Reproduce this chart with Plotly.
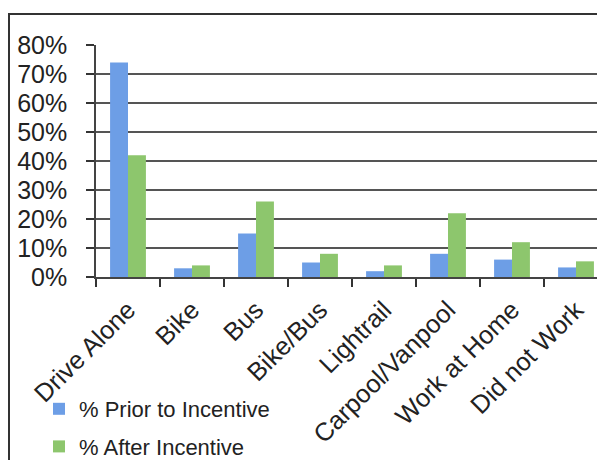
import plotly.graph_objects as go

categories = ["Drive Alone", "Bike", "Bus", "Bike/Bus", "Lightrail",
              "Carpool/Vanpool", "Work at Home", "Did not Work"]
prior = [0.74, 0.03, 0.15, 0.05, 0.02, 0.08, 0.06, 0.033]
after = [0.42, 0.04, 0.26, 0.08, 0.04, 0.22, 0.12, 0.054]
y_ticks = [0, 0.1, 0.2, 0.3, 0.4, 0.5, 0.6, 0.7, 0.8]
y_tick_text = ["0%", "10%", "20%", "30%", "40%", "50%", "60%", "70%", "80%"]

W, H = 597, 460
L, T, B = 96, 45, 183
plot_w = W - L
plot_h = H - T - B

fig = go.Figure()
fig.add_trace(go.Bar(x=categories, y=prior, name="% Prior to Incentive",
                     marker=dict(color="#6d9ee6", line=dict(width=0)),
                     legendgroup="a"))
fig.add_trace(go.Bar(x=categories, y=after, name="% After Incentive",
                     marker=dict(color="#8dc66d", line=dict(width=0)),
                     legendgroup="b"))

def px_x(px):
    return (px - L) / plot_w

def px_y(py):
    return (H - B - py) / plot_h

border = "#333333"
fig.add_shape(type="line", xref="paper", yref="paper",
              x0=px_x(8), x1=px_x(W + 5), y0=px_y(14), y1=px_y(14),
              line=dict(color=border, width=2))
fig.add_shape(type="line", xref="paper", yref="paper",
              x0=px_x(9), x1=px_x(9), y0=px_y(14), y1=px_y(H + 5),
              line=dict(color=border, width=2))

font_family = "Liberation Sans, Arial, sans-serif"
fig.update_layout(
    width=W, height=H,
    margin=dict(l=L, r=0, t=T, b=B, autoexpand=False),
    paper_bgcolor="white", plot_bgcolor="white",
    font=dict(family=font_family, color="#222222"),
    bargap=0.44, bargroupgap=0,
    barmode="group",
    showlegend=True,
    legend=dict(xref="container", yref="container",
                x=39 / W, y=1 - 388 / H, xanchor="left", yanchor="top",
                font=dict(size=22, family=font_family, color="#222222"),
                traceorder="grouped", tracegroupgap=6,
                bgcolor="rgba(0,0,0,0)"),
)
fig.update_xaxes(
    type="category", range=[-0.5, 7.5 - 11 / 64], automargin=False,
    tickson="boundaries", ticks="outside", ticklen=8, tickwidth=1.5,
    tickcolor="#333333", tickangle=-45, ticklabelstandoff=6,
    tickfont=dict(size=25.5, family=font_family, color="#222222"),
    showline=True, linecolor="#444444", linewidth=1.5,
    showgrid=False, fixedrange=True,
)
fig.update_yaxes(
    range=[0, 0.8], tickvals=y_ticks, ticktext=y_tick_text, automargin=False,
    ticks="outside", ticklen=8, tickwidth=1.5, tickcolor="#333333",
    ticklabelstandoff=14,
    tickfont=dict(size=25, family=font_family, color="#222222"),
    showline=True, linecolor="#444444", linewidth=1.5,
    showgrid=True, gridcolor="#555555", gridwidth=1.6,
    zeroline=False, fixedrange=True,
)

fig.write_html("out.html")
